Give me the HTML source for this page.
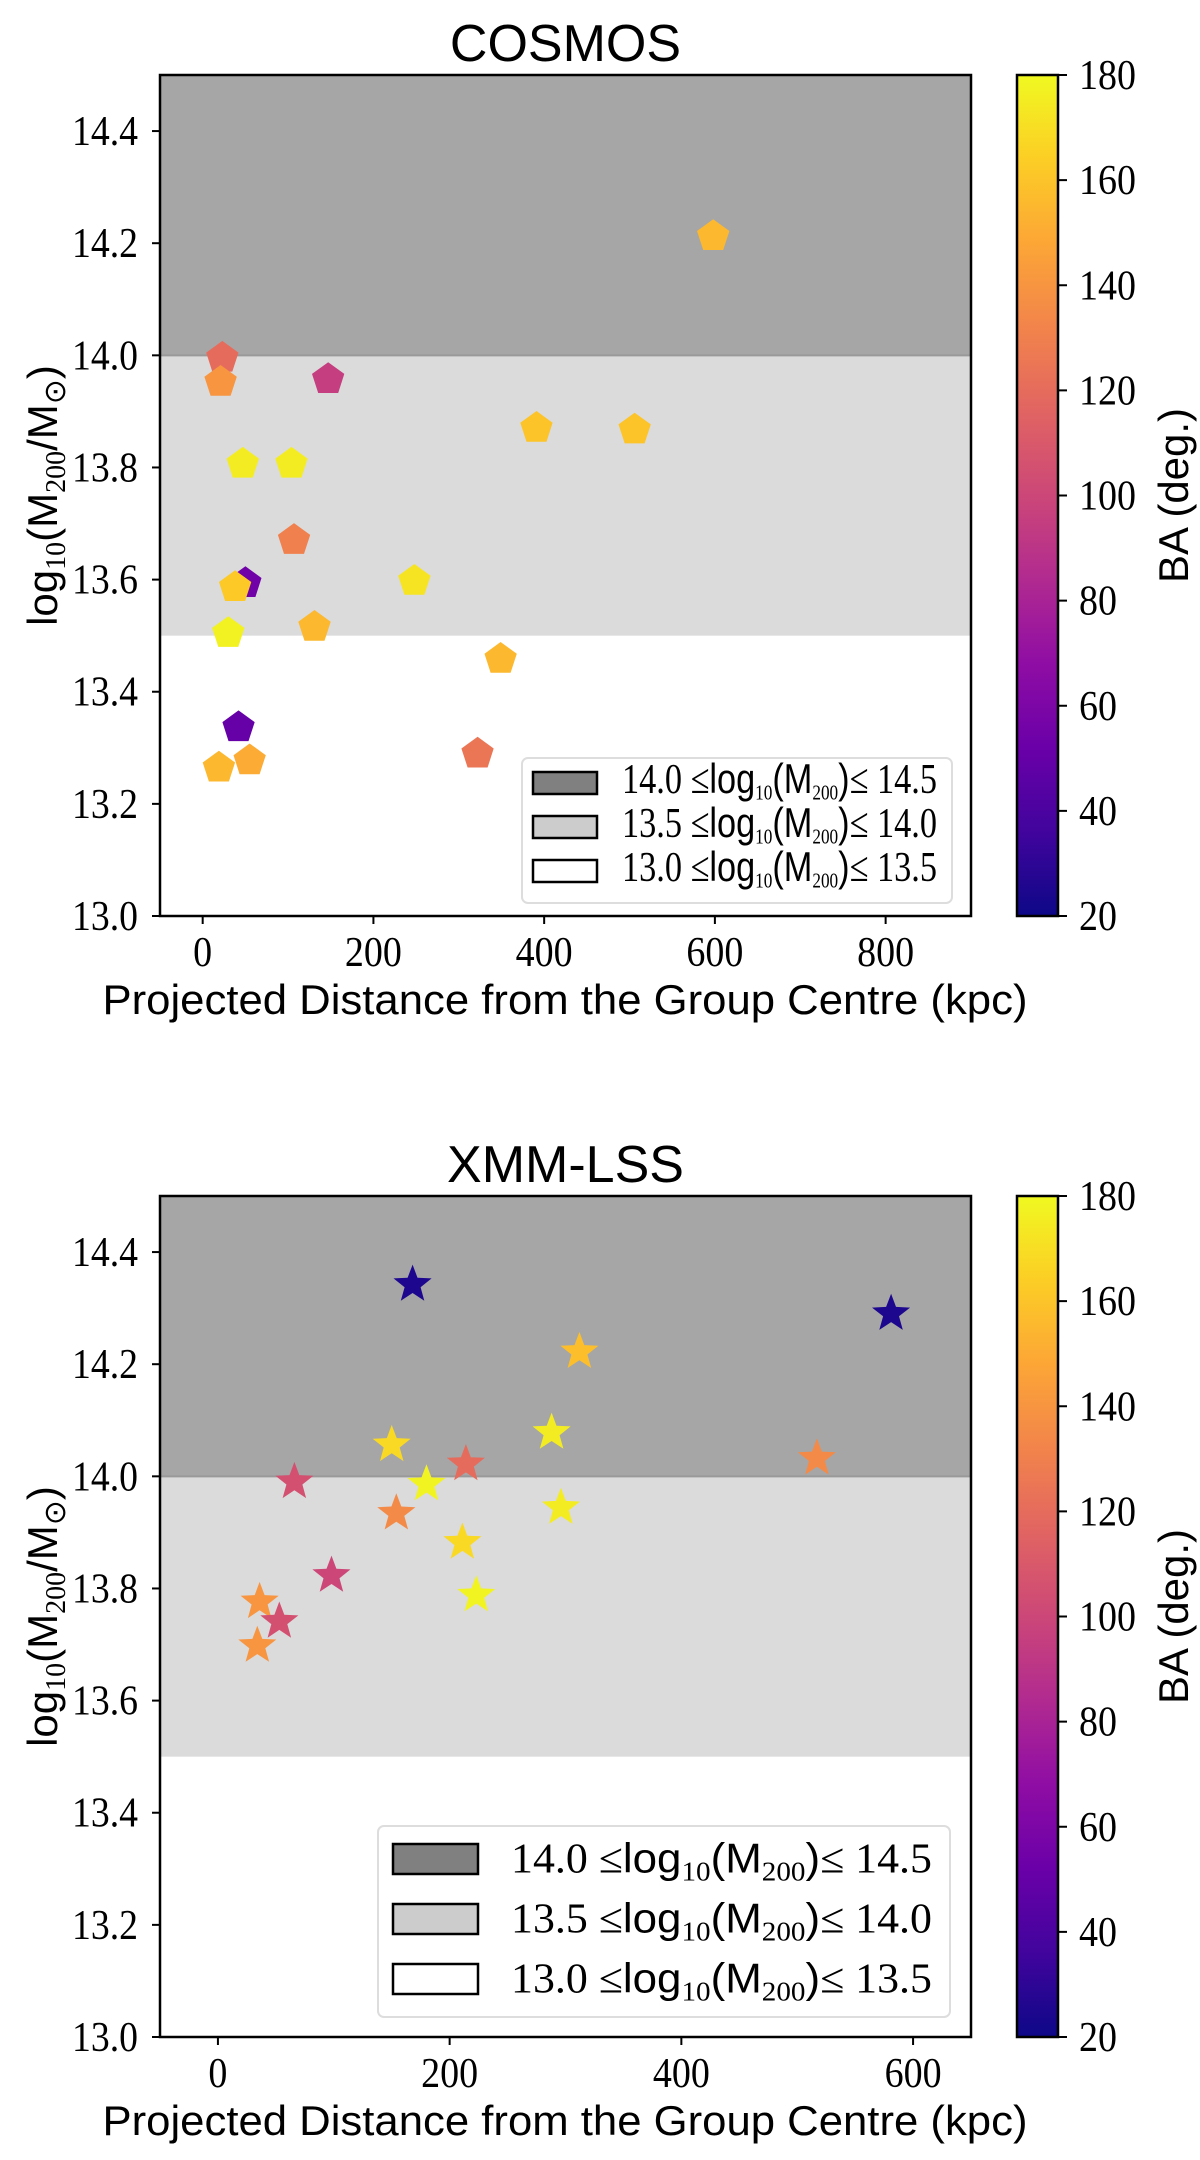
<!DOCTYPE html>
<html><head><meta charset="utf-8"><style>
html,body{margin:0;padding:0;background:#fff;}
svg{display:block;}
.tk{font-family:"Liberation Serif",serif;font-size:42px;fill:#000;}
.sans{font-family:"Liberation Sans",sans-serif;fill:#000;}
</style></head><body>
<svg id="fig" width="1200" height="2160" viewBox="0 0 1200 2160" xmlns="http://www.w3.org/2000/svg"></svg>
<script>
// COSMOS data
const cosmosDist = [598,23,21,147,391,506,47,104,107,50,38,248,30,131,349,42,19,55,322];
const cosmosMass = [14.216,13.999,13.956,13.961,13.874,13.871,13.81,13.81,13.674,13.597,13.59,13.601,13.508,13.519,13.462,13.34,13.268,13.281,13.293];
const cosmosBA = [155,120,140,95,160,160,175,175,130,55,162,172,177,155,155,50,155,150,125];
// XMM-LSS data
const xmmDist = [168,581,312,288,150,214,517,66,180,154,296,211,98,223,36,53,34];
const xmmMass = [14.342,14.29,14.222,14.078,14.056,14.022,14.032,13.99,13.986,13.934,13.944,13.882,13.823,13.788,13.776,13.741,13.698];
const xmmBA = [25,25,158,175,168,120,135,105,178,135,175,168,100,178,140,105,140];
const yTicks = [13.0,13.2,13.4,13.6,13.8,14.0,14.2,14.4];
const cbTicks = [20,40,60,80,100,120,140,160,180];
const cosmosXTicks = [0,200,400,600,800];
const xmmXTicks = [0,200,400,600];

const NS='http://www.w3.org/2000/svg';
const svg=document.getElementById('fig');
function mk(tag,attrs,parent){const e=document.createElementNS(NS,tag);for(const k in attrs)e.setAttribute(k,attrs[k]);(parent||svg).appendChild(e);return e;}
const plasma=['#0d0887','#41049d','#6a00a8','#8f0da4','#b12a90','#cc4778','#e16462','#f2844b','#fca636','#fcce25','#f0f921'];
function hex(h){return [1,3,5].map(i=>parseInt(h.substr(i,2),16));}
function cmap(v){let t=(v-20)/160;t=Math.max(0,Math.min(1,t));const f=t*10;const i=Math.min(9,Math.floor(f));const a=hex(plasma[i]),b=hex(plasma[i+1]);const r=f-i;return 'rgb('+a.map((c,k)=>Math.round(c+(b[k]-c)*r)).join(',')+')';}
// gradient
const defs=mk('defs',{});
const lg=mk('linearGradient',{id:'pl',x1:0,y1:1,x2:0,y2:0},defs);
plasma.forEach((c,i)=>mk('stop',{offset:i/10,'stop-color':c},lg));

function pentagon(cx,cy,r){let p=[];for(let i=0;i<5;i++){const a=-Math.PI/2+i*2*Math.PI/5;p.push((cx+r*Math.cos(a)).toFixed(1)+','+(cy+r*Math.sin(a)).toFixed(1));}return p.join(' ');}
function star(cx,cy,R){const r=R*0.42;let p=[];for(let i=0;i<10;i++){const a=-Math.PI/2+i*Math.PI/5;const rr=i%2?r:R;p.push((cx+rr*Math.cos(a)).toFixed(1)+','+(cy+rr*Math.sin(a)).toFixed(1));}return p.join(' ');}

function panel(o){
  const L=160,R=971,T=o.top,B=o.top+841;
  const g=mk('g',{});
  
  
  const X=v=>L+(v-o.xmin)/(o.xmax-o.xmin)*(R-L);
  const Y=v=>B-(v-13)/1.5*(B-T);
  // shading
  const s1=mk('rect',{x:L,y:Y(14.5),width:R-L,height:Y(14)-Y(14.5),fill:'#a6a6a6'},g);
  
  const s2=mk('rect',{x:L,y:Y(14),width:R-L,height:Y(13.5)-Y(14),fill:'#dbdbdb'},g);
  
  mk('line',{x1:L,x2:R,y1:Y(14),y2:Y(14),stroke:'#999',"stroke-width":2},g);
  // title
  const t=mk('text',{x:(L+R)/2,y:T-14,'text-anchor':'middle',class:'sans','font-size':52},g);t.textContent=o.title;
  
  // y ticks
  yTicks.forEach(v=>{mk('line',{x1:L-8,x2:L,y1:Y(v),y2:Y(v),stroke:'#000','stroke-width':2},g);
    const tx=mk('text',{x:138,y:Y(v)+14,'text-anchor':'end',class:'tk',textLength:66,lengthAdjust:'spacingAndGlyphs'},g);tx.textContent=v.toFixed(1);
    });
  o.xticks.forEach(v=>{mk('line',{x1:X(v),x2:X(v),y1:B,y2:B+8,stroke:'#000','stroke-width':2},g);
    const s=String(v);const tx=mk('text',{x:X(v),y:B+50,'text-anchor':'middle',class:'tk',textLength:s.length*19,lengthAdjust:'spacingAndGlyphs'},g);tx.textContent=s;
    });
  // x label
  const xl=mk('text',{x:565,y:B+98,'text-anchor':'middle',class:'sans','font-size':42,textLength:925,lengthAdjust:'spacingAndGlyphs'},g);xl.textContent='Projected Distance from the Group Centre (kpc)';
  
  // y label
  const yc=(T+B)/2;
  const yl=mk('text',{x:0,y:0,class:'sans','font-size':42,'text-anchor':'middle',transform:'translate(57,'+yc+') rotate(-90)'},g);
  
  yl.innerHTML='log<tspan font-family="Liberation Serif" font-size="28" dy="8">10</tspan><tspan dy="-8">(M</tspan><tspan font-family="Liberation Serif" font-size="28" dy="8">200</tspan><tspan dy="-8">/M</tspan><tspan font-family="Liberation Serif" font-size="30" dy="8">⊙</tspan><tspan dy="-8">)</tspan>';
  // points
  o.xs.forEach((xv,i)=>{
    const cx=X(xv),cy=Y(o.ys[i]);
    const m=mk('polygon',{points:o.marker==='p'?pentagon(cx,cy+2,17):star(cx,cy,20),fill:cmap(o.cs[i])},g);
    
    
  });
  // frame
  mk('rect',{x:L,y:T,width:R-L,height:B-T,fill:'none',stroke:'#000','stroke-width':2.5},g);
  // legend
  const lgx=o.leg;
  const lb=mk('g',{},g);
  
  mk('rect',{x:lgx.x,y:lgx.y,width:lgx.w,height:lgx.h,rx:6,fill:'#fff','fill-opacity':0.85,stroke:'#ddd','stroke-width':2},lb);
  const fills=['#808080','#cccccc','#ffffff'];const labs=[['14.0','14.5'],['13.5','14.0'],['13.0','13.5']];
  for(let i=0;i<3;i++){
    const cy=lgx.y+lgx.r0+i*lgx.dr;
    const pr=mk('rect',{x:lgx.px,y:cy-lgx.ph/2,width:lgx.pw,height:lgx.ph,fill:fills[i],stroke:'#000','stroke-width':2.5},lb);
    
    const tx=mk('text',{x:lgx.tx,y:cy+lgx.fs*0.33,class:'tk','font-size':lgx.fs,textLength:lgx.tw,lengthAdjust:'spacingAndGlyphs'},lb);
    const fs=lgx.fs,sf=fs*0.68;
    tx.innerHTML=labs[i][0]+' ≤<tspan font-family="Liberation Sans">log</tspan><tspan font-size="'+sf+'" dy="'+fs*0.2+'">10</tspan><tspan font-family="Liberation Sans" dy="'+(-fs*0.2)+'">(M</tspan><tspan font-size="'+sf+'" dy="'+fs*0.2+'">200</tspan><tspan font-family="Liberation Sans" dy="'+(-fs*0.2)+'">)</tspan>≤ '+labs[i][1];
  }
  // colorbar
  const cb=mk('g',{},g);
  const CL=1017,CR=1058;
  mk('rect',{x:CL,y:T,width:CR-CL,height:B-T,fill:'url(#pl)',stroke:'#000','stroke-width':2.5},cb);
  const CY=v=>B-(v-20)/160*(B-T);
  cbTicks.forEach(v=>{mk('line',{x1:CR,x2:CR+9,y1:CY(v),y2:CY(v),stroke:'#000','stroke-width':2},cb);
    const s=String(v);const tx=mk('text',{x:1079,y:CY(v)+14,class:'tk',textLength:s.length*19,lengthAdjust:'spacingAndGlyphs'},cb);tx.textContent=s;
    });
  const cl=mk('text',{x:0,y:0,class:'sans','font-size':42,'text-anchor':'middle',transform:'translate(1188,'+yc+') rotate(-90)'},cb);cl.textContent='BA (deg.)';
  
}
panel({name:'cosmos',title:'COSMOS',top:75,xmin:-50,xmax:900,xticks:cosmosXTicks,xs:cosmosDist,ys:cosmosMass,cs:cosmosBA,marker:'p',
  leg:{x:522,y:758,w:430,h:145,r0:25,dr:44,px:533,pw:64,ph:22,tx:622,tw:315,fs:31}});
panel({name:'xmm',title:'XMM-LSS',top:1196,xmin:-50,xmax:650,xticks:xmmXTicks,xs:xmmDist,ys:xmmMass,cs:xmmBA,marker:'s',
  leg:{x:378,y:1826,w:572,h:191,r0:33,dr:60,px:393,pw:85,ph:30,tx:511,tw:421,fs:41}});
</script>
</body></html>
